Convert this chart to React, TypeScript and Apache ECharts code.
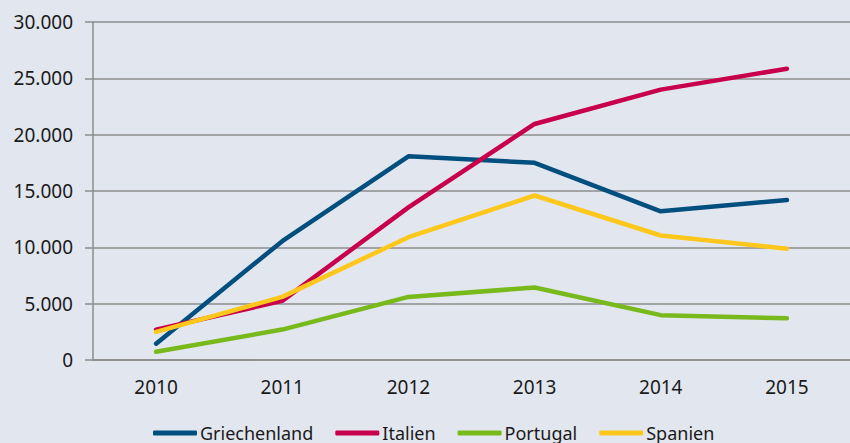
import React, { useEffect, useRef } from "react";
import * as echarts from "echarts";

const years = ["2010", "2011", "2012", "2013", "2014", "2015"];
const griechenland = [1450, 10550, 18080, 17500, 13200, 14200];
const italien = [2700, 5250, 13550, 20950, 24000, 25850];
const portugal = [730, 2700, 5600, 6430, 3980, 3700];
const spanien = [2500, 5600, 10900, 14600, 11050, 9880];
const yTicks = { min: 0, max: 30000, interval: 5000 };

const seriesDefs = [
  { name: "Griechenland", data: griechenland, color: "#004f7e" },
  { name: "Italien", data: italien, color: "#c8004b" },
  { name: "Portugal", data: portugal, color: "#78b91b" },
  { name: "Spanien", data: spanien, color: "#fdc71c" },
];

const fmt = (v: number) => {
  const s = String(Math.round(v));
  return s.replace(/\B(?=(\d{3})+(?!\d))/g, ".");
};

export default function App() {
  const ref = useRef<HTMLDivElement>(null);
  useEffect(() => {
    document.body.style.margin = "0";
    document.body.style.background = "#e2e6ef";
    const chart = echarts.init(ref.current!, null, { renderer: "svg" });
    const font = "'Noto Sans', sans-serif";
    chart.setOption({
      animation: false,
      backgroundColor: "#e2e6ef",
      textStyle: { fontFamily: font },
      grid: { left: 93, right: 0, top: 22, bottom: 83, containLabel: false },
      legend: {
        top: 419,
        left: 148,
        itemWidth: 44,
        itemHeight: 5,
        itemGap: 22,
        icon: "roundRect",
        textStyle: { fontFamily: font, fontSize: 18, color: "#1a1a1a", padding: [0, 0, 0, -2] },
        data: seriesDefs.map((s) => s.name),
      },
      xAxis: {
        type: "category",
        data: years,
        boundaryGap: true,
        axisLine: { lineStyle: { color: "#8c8c8c", width: 1.5 } },
        axisTick: { length: 6, lineStyle: { color: "#8c8c8c", width: 1.5 } },
        axisLabel: { fontFamily: font, fontSize: 19, color: "#1a1a1a", margin: 17 },
        splitLine: { show: false },
      },
      yAxis: {
        type: "value",
        min: yTicks.min,
        max: yTicks.max,
        interval: yTicks.interval,
        axisLine: { show: true, lineStyle: { color: "#8c8c8c", width: 1.5 } },
        axisTick: { show: true, length: 8, lineStyle: { color: "#8c8c8c", width: 1.5 } },
        axisLabel: { fontFamily: font, fontSize: 19, color: "#1a1a1a", margin: 20, formatter: fmt },
        splitLine: { lineStyle: { color: "#8c8c8c", width: 1.5 } },
      },
      series: seriesDefs.map((s) => ({
        name: s.name,
        type: "line",
        data: s.data,
        symbol: "none",
        color: s.color,
        itemStyle: { color: s.color },
        lineStyle: { color: s.color, width: 4.5, cap: "round", join: "round" },
      })),
    });
    return () => chart.dispose();
  }, []);
  return <div ref={ref} style={{ width: 850, height: 443 }} />;
}
